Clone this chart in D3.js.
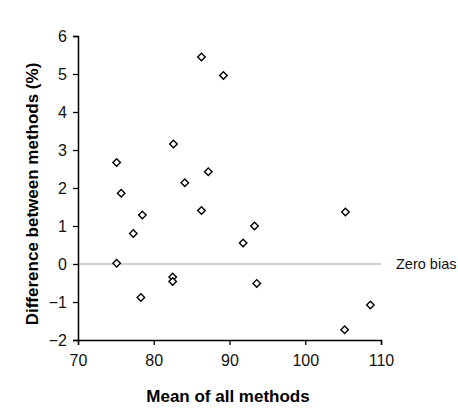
<!DOCTYPE html>
<html>
<head>
<meta charset="utf-8">
<script src="https://cdn.jsdelivr.net/npm/d3@7"></script>
<style>
  body { margin: 0; background: #fff; }
  svg { display: block; font-family: Arial, "Liberation Sans", sans-serif; }
</style>
</head>
<body>
<svg id="chart" width="458" height="412"></svg>
<script>
// mean of all methods vs difference between methods (%)
const meanValues = [86.3, 89.2, 82.6, 75.1, 87.2, 84.1, 75.7, 86.3, 78.5, 77.3,
                    75.1, 82.5, 82.5, 78.3, 91.8, 93.3, 93.6, 105.3, 108.6, 105.2];
const diffValues = [5.45, 4.96, 3.16, 2.67, 2.43, 2.14, 1.86, 1.41, 1.29, 0.80,
                    0.02, -0.34, -0.46, -0.88, 0.55, 1.00, -0.51, 1.37, -1.08, -1.73];
const xTicks = [70, 80, 90, 100, 110];
const yTicks = [-2, -1, 0, 1, 2, 3, 4, 5, 6];

const svg = d3.select('#chart');
const margin = { top: 36, right: 77, bottom: 72, left: 78 };
const width = 458 - margin.left - margin.right;
const height = 412 - margin.top - margin.bottom;

const x = d3.scaleLinear().domain([70, 110]).range([0, width]);
const y = d3.scaleLinear().domain([-2, 6]).range([height, 0]);

const g = svg.append('g').attr('transform', 'translate(' + margin.left + ',' + margin.top + ')');

// zero bias reference line
g.append('line')
    .attr('x1', 0).attr('x2', width)
    .attr('y1', y(0)).attr('y2', y(0))
    .attr('stroke', '#c0c0c0').attr('stroke-width', 1.5);

g.append('text')
    .attr('x', width + 15).attr('y', y(0))
    .attr('dy', '0.35em')
    .style('font-size', '14.5px')
    .attr('fill', '#111')
    .text('Zero bias');

const xAxis = g.append('g')
    .attr('transform', 'translate(0,' + height + ')')
    .call(d3.axisBottom(x).tickValues(xTicks).tickSize(5).tickPadding(10));

const yAxis = g.append('g')
    .call(d3.axisLeft(y).tickValues(yTicks).tickSize(5).tickPadding(6));

[xAxis, yAxis].forEach((a) => {
    a.select('.domain').attr('stroke', '#000').attr('stroke-width', 1.5);
    a.selectAll('.tick line').attr('stroke', '#000').attr('stroke-width', 1.3);
    a.selectAll('.tick text').style('font-size', '16px').attr('fill', '#111').style('font-family', 'Arial, "Liberation Sans", sans-serif');
});

// diamond markers
const diamond = d3.symbol().type(d3.symbolDiamond2).size(36);
g.selectAll('.pt')
    .data(meanValues.map((m, i) => [m, diffValues[i]]))
    .enter().append('path')
    .attr('class', 'pt')
    .attr('d', diamond)
    .attr('transform', (d) => 'translate(' + x(d[0]) + ',' + y(d[1]) + ')')
    .attr('fill', '#fff')
    .attr('stroke', '#000')
    .attr('stroke-width', 1.4);

svg.append('text')
    .attr('x', 228).attr('y', 402)
    .attr('text-anchor', 'middle')
    .style('font-size', '17px').style('font-weight', 'bold')
    .text('Mean of all methods');

svg.append('text')
    .attr('transform', 'translate(38,194) rotate(-90)')
    .attr('text-anchor', 'middle')
    .style('font-size', '17px').style('font-weight', 'bold')
    .text('Difference between methods (%)');
</script>
</body>
</html>
